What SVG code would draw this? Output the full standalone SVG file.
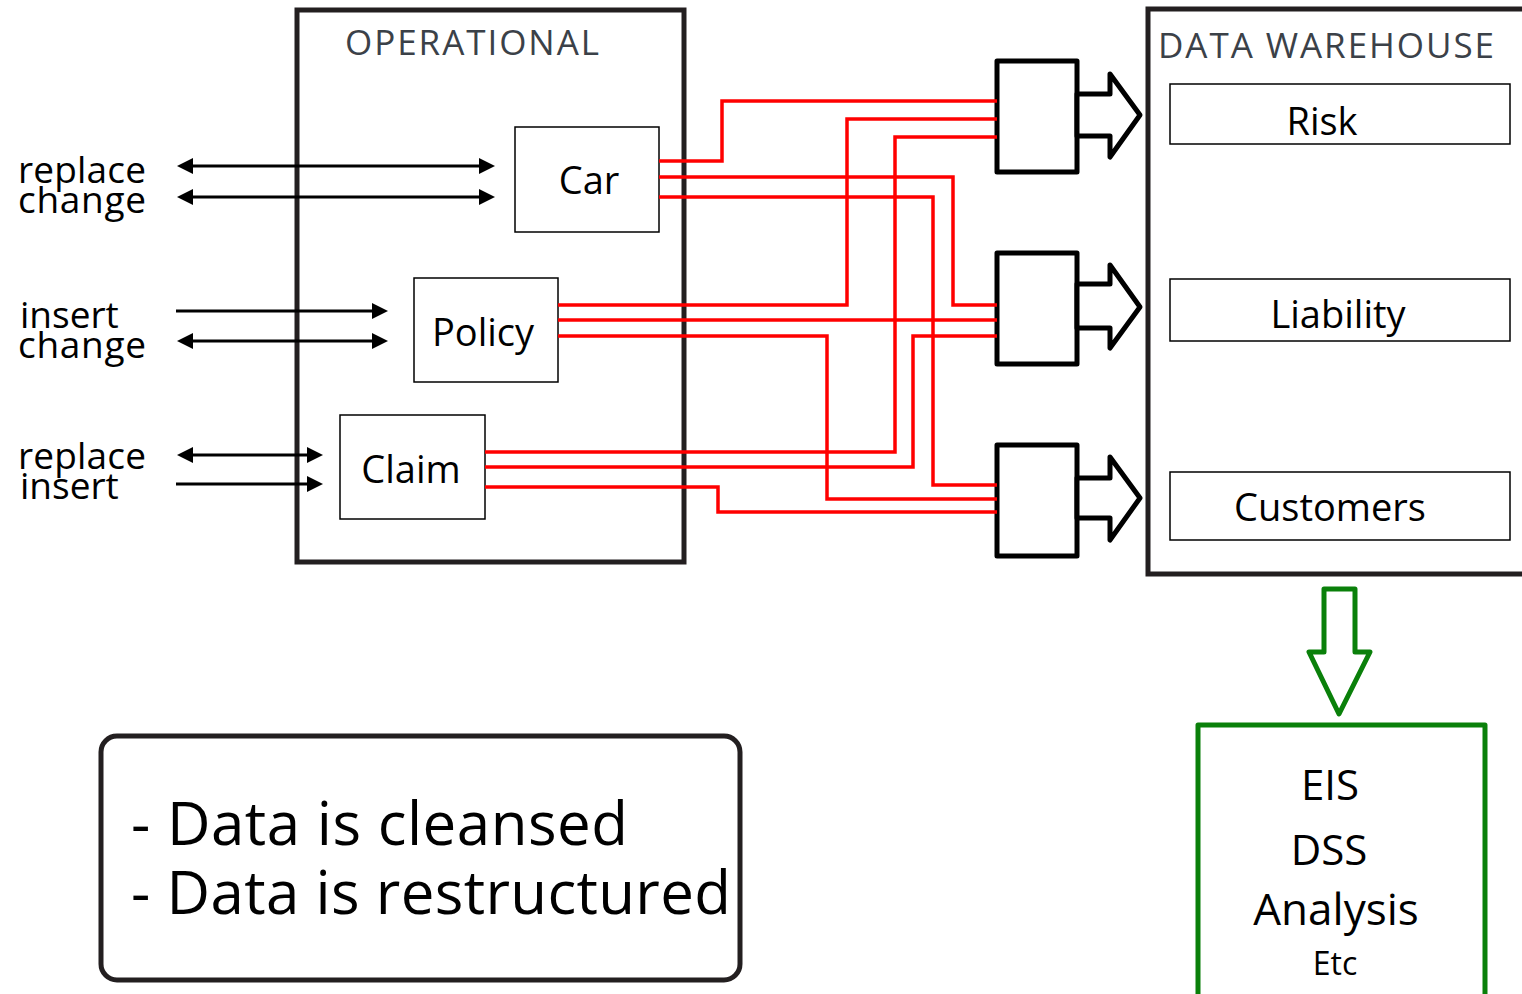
<svg xmlns="http://www.w3.org/2000/svg" width="1522" height="994" viewBox="0 0 1522 994">
<defs>
<marker id="ah" viewBox="0 0 16 16" refX="12" refY="8" markerWidth="16" markerHeight="16" markerUnits="userSpaceOnUse" orient="auto-start-reverse">
<path d="M0,0 L16,8 L0,16 z" fill="#000"/>
</marker>
<style>
text{font-family:"Open Sans","DejaVu Sans",sans-serif;fill:#000}
.frame{fill:none;stroke:#231f20;stroke-width:5}
.tbl{fill:#fff;stroke:#000;stroke-width:1.5}
.mg{fill:#fff;stroke:#000;stroke-width:5;stroke-linejoin:round}
.red{fill:none;stroke:#ff0000;stroke-width:3.5}
.blk{stroke:#000;stroke-width:3;fill:none}
.ttl{font-size:35px;fill:#3b4148}
.lbl{font-size:37px}
.nd{font-size:38px}
.grn{fill:#fff;stroke:#0a800a;stroke-width:5;stroke-linejoin:round}
</style>
</defs>
<g id="operational">
<rect class="frame" x="297" y="10" width="387" height="552"/>
<text class="ttl" x="472" y="55" text-anchor="middle" textLength="254">OPERATIONAL</text>
</g>
<g id="warehouse">
<rect class="frame" x="1148" y="9" width="400" height="565"/>
<text class="ttl" x="1158" y="58" textLength="336">DATA WAREHOUSE</text>
</g>
<g id="car"><rect class="tbl" x="515" y="127" width="144" height="105"/><text class="nd" x="589" y="194" text-anchor="middle">Car</text></g>
<g id="policy"><rect class="tbl" x="414" y="278" width="144" height="104"/><text class="nd" x="483" y="346" text-anchor="middle">Policy</text></g>
<g id="claim"><rect class="tbl" x="340" y="415" width="145" height="104"/><text class="nd" x="411" y="483" text-anchor="middle">Claim</text></g>
<g id="risk"><rect class="tbl" x="1170" y="84" width="340" height="60"/><text class="nd" x="1322" y="135" text-anchor="middle">Risk</text></g>
<g id="liability"><rect class="tbl" x="1170" y="279" width="340" height="62"/><text class="nd" x="1338" y="328" text-anchor="middle">Liability</text></g>
<g id="customers"><rect class="tbl" x="1170" y="472" width="340" height="68"/><text class="nd" x="1330" y="521" text-anchor="middle">Customers</text></g>
<g id="merge1"><rect class="mg" x="997" y="61" width="80" height="111"/><polygon class="mg" points="1077,94 1110,94 1110,74 1140,115 1110,157 1110,136 1077,136"/></g>
<g id="merge2"><rect class="mg" x="997" y="253" width="80" height="111"/><polygon class="mg" points="1077,284 1110,284 1110,265 1140,307 1110,348 1110,328 1077,328"/></g>
<g id="merge3"><rect class="mg" x="997" y="445" width="80" height="111"/><polygon class="mg" points="1077,478 1110,478 1110,457 1140,498 1110,540 1110,518 1077,518"/></g>
<g id="labels">
<text class="lbl" x="18" y="183" textLength="128">replace</text>
<text class="lbl" x="18" y="213" textLength="128">change</text>
<text class="lbl" x="20" y="328">insert</text>
<text class="lbl" x="18" y="358" textLength="128">change</text>
<text class="lbl" x="18" y="469" textLength="128">replace</text>
<text class="lbl" x="20" y="499">insert</text>
</g>
<g id="connectors">
<line class="blk" x1="181" y1="166" x2="491" y2="166" marker-start="url(#ah)" marker-end="url(#ah)"/>
<line class="blk" x1="181" y1="197" x2="491" y2="197" marker-start="url(#ah)" marker-end="url(#ah)"/>
<line class="blk" x1="176" y1="311" x2="384" y2="311" marker-end="url(#ah)"/>
<line class="blk" x1="181" y1="341" x2="384" y2="341" marker-start="url(#ah)" marker-end="url(#ah)"/>
<line class="blk" x1="181" y1="455" x2="319" y2="455" marker-start="url(#ah)" marker-end="url(#ah)"/>
<line class="blk" x1="176" y1="484" x2="319" y2="484" marker-end="url(#ah)"/>
<polyline class="red" points="659,161 722,161 722,101 997,101"/>
<polyline class="red" points="659,177 953,177 953,305 997,305"/>
<polyline class="red" points="659,197 933,197 933,485 997,485"/>
<polyline class="red" points="558,305 847,305 847,119 997,119"/>
<polyline class="red" points="558,320 997,320"/>
<polyline class="red" points="558,336 827,336 827,499 997,499"/>
<polyline class="red" points="485,452 895,452 895,137 997,137"/>
<polyline class="red" points="485,467 913,467 913,336 997,336"/>
<polyline class="red" points="485,487 718,487 718,512 997,512"/>
<polygon class="grn" points="1324,589 1355,589 1355,652 1370,652 1339,714 1309,652 1324,652"/>
</g>
<g id="analysis">
<rect class="grn" x="1198" y="725" width="287" height="300"/>
<text x="1330" y="800" font-size="42" text-anchor="middle">EIS</text>
<text x="1329" y="865" font-size="42" text-anchor="middle">DSS</text>
<text x="1336" y="925" font-size="44" text-anchor="middle">Analysis</text>
<text x="1335" y="975" font-size="32" text-anchor="middle">Etc</text>
</g>
<g id="note">
<rect x="101" y="736" width="639" height="244" rx="16" fill="#fff" stroke="#231f20" stroke-width="5"/>
<text x="131" y="845" font-size="60" textLength="497">- Data is cleansed</text>
<text x="131" y="914" font-size="60" textLength="600">- Data is restructured</text>
</g>
</svg>
